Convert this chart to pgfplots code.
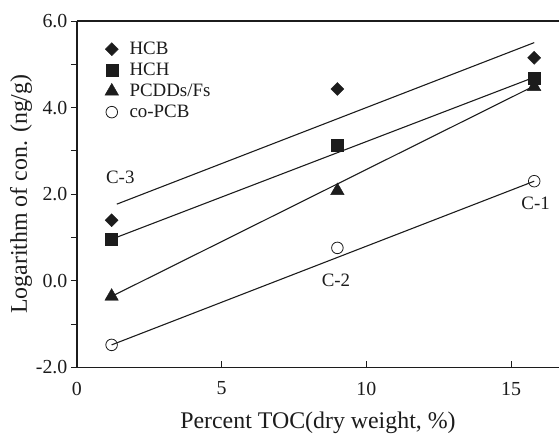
\documentclass[border=0pt]{standalone}
\usepackage{fontspec}
\setmainfont{Liberation Serif}
\usepackage{pgfplots}
\pgfplotsset{compat=1.18}
\definecolor{ink}{HTML}{1C1C1C}
\begin{document}
\begin{tikzpicture}
\begin{axis}[
  scale only axis,
  width=483bp, height=347bp,
  xmin=0, xmax=16.66, ymin=-2, ymax=6,
  axis x line*=bottom, axis y line*=left,
  axis line style={line width=1.8bp, ink, -},
  xtick={0,5,10,15}, xticklabels={0,5,10,15},
  ytick={-2,0,2,4,6}, yticklabels={-2.0,0.0,2.0,4.0,6.0},
  minor ytick={-1,1,3,5},
  xtick align=inside, ytick align=outside,
  major tick length=6bp, minor tick length=6bp,
  tick style={line width=0.9bp, ink},
  tick label style={font=\fontsize{20}{22}\selectfont, text=ink},
  xticklabel style={yshift=-11bp},
  xlabel={Percent TOC(dry weight, \%)},
  ylabel={Logarithm of con. (ng/g)},
  label style={font=\fontsize{24}{26}\selectfont, text=ink},
  xlabel style={yshift=-10bp},
  ylabel shift=-3bp,
  legend style={at={(rel axis cs:0.058,0.945)}, anchor=north west, draw=none, fill=none,
    inner sep=0pt, font=\fontsize{19}{21}\selectfont, row sep=3bp, column sep=9bp, text=ink},
  legend cell align=left,
  clip=false,
]
% markers
\addplot[only marks, mark=square*, mark size=4.6bp, mark options={rotate=45, fill=ink, draw=ink}]
  coordinates {(1.2,1.4) (9.0,4.43) (15.8,5.15)};
\addlegendentry{HCB}
\addplot[only marks, mark=square*, mark size=6bp, mark options={fill=ink, draw=ink}]
  coordinates {(1.2,0.96) (9.0,3.13) (15.8,4.67)};
\addlegendentry{HCH}
\addplot[only marks, mark=triangle*, mark size=7.8bp, mark options={fill=ink, draw=ink}]
  coordinates {(1.2,-0.36) (9.0,2.08) (15.8,4.48)};
\addlegendentry{PCDDs/Fs}
\addplot[only marks, mark=o, mark size=5.8bp, mark options={fill=white, draw=ink, line width=0.8bp}]
  coordinates {(1.2,-1.48) (9.0,0.76) (15.8,2.3)};
\addlegendentry{co-PCB}
% regression lines
\addplot[ink, line width=1.1bp, forget plot] coordinates {(1.38,1.77) (15.8,5.5)};
\addplot[ink, line width=1.1bp, forget plot] coordinates {(1.2,0.96) (15.8,4.7)};
\addplot[ink, line width=1.1bp, forget plot] coordinates {(1.2,-0.36) (15.8,4.5)};
\addplot[ink, line width=1.1bp, forget plot] coordinates {(1.2,-1.48) (15.8,2.3)};
% top frame line
\draw[line width=1.8bp, ink] (rel axis cs:0,1) -- (rel axis cs:1,1);
% station labels
\node[font=\fontsize{19}{21}\selectfont, text=ink] at (axis cs:1.5,2.4) {C-3};
\node[font=\fontsize{19}{21}\selectfont, text=ink] at (axis cs:8.95,0.02) {C-2};
\node[font=\fontsize{19}{21}\selectfont, text=ink] at (axis cs:15.85,1.8) {C-1};
% white margin as in the reference
\path (rel axis cs:0,0) ++(-77bp,-68bp);
\path (rel axis cs:0,1) ++(0bp,21bp);
\end{axis}
\end{tikzpicture}
\end{document}
